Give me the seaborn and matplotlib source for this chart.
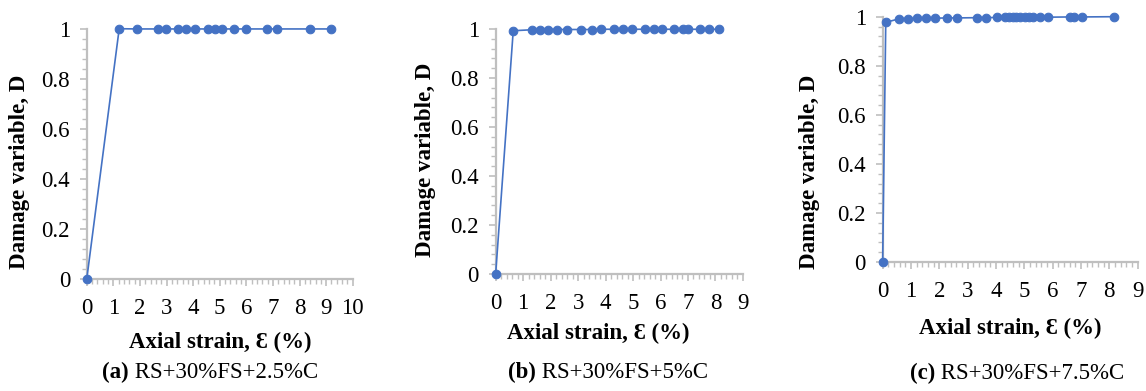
import matplotlib
matplotlib.use("Agg")
import matplotlib.pyplot as plt
from matplotlib.ticker import MultipleLocator, FixedLocator
import seaborn as sns
import pandas as pd

sns.set_theme(style="white")
plt.rcParams["font.family"] = ["Liberation Serif", "DejaVu Serif"]
plt.rcParams["text.color"] = "black"
plt.rcParams["axes.labelcolor"] = "black"

# (a) RS+30%FS+2.5%C
strain_a = [0, 1.22, 1.88, 2.67, 2.97, 3.42, 3.72, 4.07, 4.54, 4.82, 5.08, 5.54, 5.99,
            6.77, 7.17, 8.40, 9.20]
damage_a = [0, 1.0, 0.999, 0.999, 0.999, 0.999, 0.999, 0.999, 0.999, 0.999, 0.999,
            0.999, 0.999, 0.999, 0.999, 0.999, 0.999]

# (b) RS+30%FS+5%C
strain_b = [0, 0.64, 1.33, 1.62, 1.92, 2.25, 2.58, 3.12, 3.50, 3.84, 4.30, 4.64, 4.96,
            5.44, 5.76, 6.07, 6.50, 6.82, 7.00, 7.45, 7.78, 8.12]
damage_b = [0, 0.993, 0.997, 0.997, 0.998, 0.998, 0.998, 0.998, 0.998, 0.999, 0.999,
            0.999, 0.999, 0.999, 0.999, 0.999, 0.999, 0.999, 0.999, 0.999, 0.999, 0.999]

# (c) RS+30%FS+7.5%C
strain_c = [0, 0.11, 0.57, 0.88, 1.20, 1.53, 1.86, 2.26, 2.61, 3.32, 3.65, 4.02, 4.32,
            4.45, 4.60, 4.72, 4.85, 5.02, 5.15, 5.30, 5.56, 5.85, 6.61, 6.75, 7.02, 8.17]
damage_c = [0, 0.977, 0.991, 0.992, 0.993, 0.994, 0.994, 0.995, 0.995, 0.996, 0.996,
            0.997, 0.997, 0.997, 0.997, 0.997, 0.997, 0.998, 0.998, 0.998, 0.998, 0.998,
            0.999, 0.999, 0.999, 1.0]

y_ticks = [0, 0.2, 0.4, 0.6, 0.8, 1.0]
y_tick_labels = ["0", "0.2", "0.4", "0.6", "0.8", "1"]

panels = [
    dict(x=strain_a, y=damage_a, xmax=10, tag="(a)", name="RS+30%FS+2.5%C",
         rect=[0.0757, 0.2864, 0.2321, 0.6402],
         xlabel_xy=(220, 342), ylabel_xy=(20, 172), caption_x=102, caption_y=372),
    dict(x=strain_b, y=damage_b, xmax=9, tag="(b)", name="RS+30%FS+5%C",
         rect=[0.4325, 0.2992, 0.2158, 0.6266],
         xlabel_xy=(598, 333), ylabel_xy=(425, 160), caption_x=508, caption_y=372),
    dict(x=strain_c, y=damage_c, xmax=9, tag="(c)", name="RS+30%FS+7.5%C",
         rect=[0.7702, 0.3299, 0.2225, 0.6274],
         xlabel_xy=(1010, 328), ylabel_xy=(809, 172), caption_x=910, caption_y=373),
]

W, H = 1146, 391
fig = plt.figure(figsize=(W / 100, H / 100), dpi=100)

line_color = "#4472C4"
axis_color = "#BFBFBF"
fs_tick = 16.5
fs_label = 16.5

for p in panels:
    ax = fig.add_axes(p["rect"])
    df = pd.DataFrame({"strain": p["x"], "damage": p["y"]})
    sns.lineplot(data=df, x="strain", y="damage", ax=ax, estimator=None, sort=False,
                 color=line_color, linewidth=1.2, marker="o", markersize=6.2,
                 markeredgecolor=line_color, markerfacecolor=line_color)
    for ln in ax.lines:
        ln.set_clip_on(False)
        ln.set_zorder(5)

    ax.set_xlim(0, p["xmax"])
    ax.set_ylim(0, 1)
    ax.xaxis.set_major_locator(MultipleLocator(1))
    ax.xaxis.set_minor_locator(MultipleLocator(0.2))
    ax.yaxis.set_major_locator(FixedLocator(y_ticks))
    ax.yaxis.set_minor_locator(MultipleLocator(0.04))
    ax.set_yticklabels(y_tick_labels)
    ax.set_xlabel("")
    ax.set_ylabel("")

    for side in ("top", "right"):
        ax.spines[side].set_visible(False)
    for side in ("left", "bottom"):
        ax.spines[side].set_color(axis_color)
        ax.spines[side].set_linewidth(1.6)

    ax.tick_params(which="major", direction="out", length=5, width=1.2,
                   color=axis_color, labelsize=fs_tick, labelcolor="black",
                   left=True, bottom=True)
    ax.tick_params(axis="x", which="major", pad=9)
    ax.tick_params(axis="y", which="major", pad=7)
    ax.tick_params(which="minor", direction="out", length=3.5, width=1.0,
                   color=axis_color, left=True, bottom=True)
    ax.grid(False)
    ax.set_facecolor("white")

    xl, yl = p["xlabel_xy"]
    fig.text(xl / W, 1 - yl / H, "Axial strain, Ɛ (%)", ha="center", va="center",
             fontsize=fs_label, fontweight="bold", color="black")
    xl, yl = p["ylabel_xy"]
    fig.text(xl / W, 1 - yl / H, "Damage variable, D", ha="center", va="center",
             rotation=90, fontsize=fs_label, fontweight="bold", color="black")

    tag = fig.text(p["caption_x"] / W, 1 - p["caption_y"] / H, p["tag"], ha="left",
                   va="center", fontsize=fs_label, fontweight="bold", color="black")
    ax.annotate(" " + p["name"], xy=(1, 0), xycoords=tag, ha="left", va="bottom",
                fontsize=fs_label, color="black", annotation_clip=False)

fig.savefig("out.png", dpi=100, facecolor="white")
